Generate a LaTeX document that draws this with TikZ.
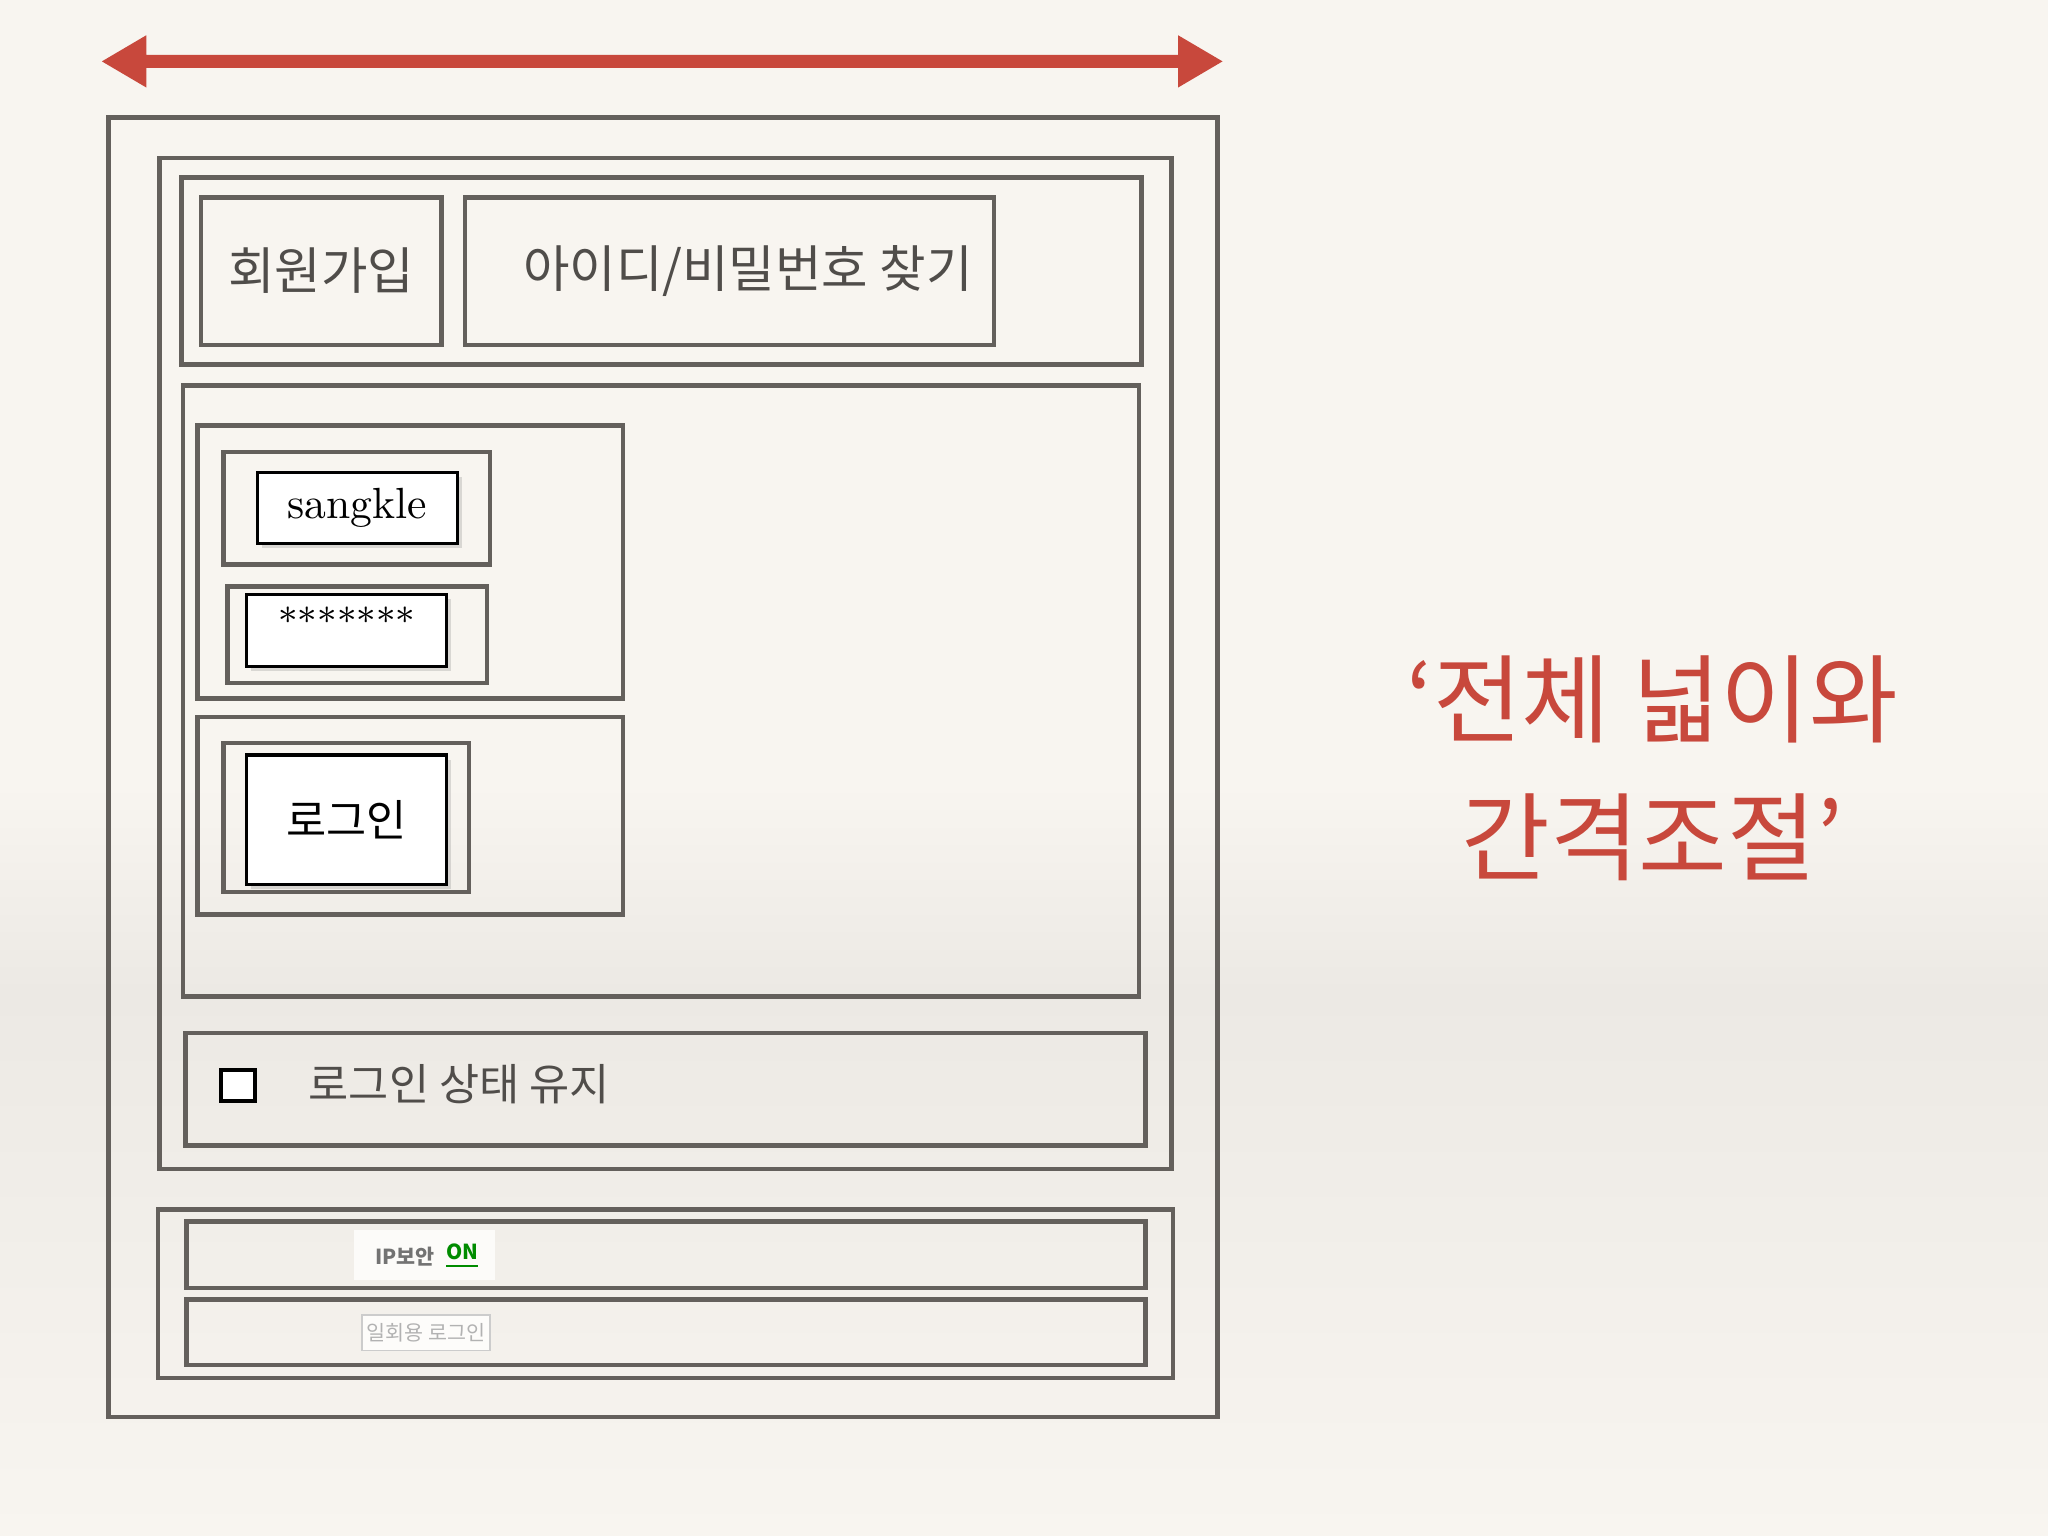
\documentclass[tikz,border=0pt]{standalone}
\usepackage{fontspec}
\usetikzlibrary{shadows}
\newfontfamily\kr{Noto Sans CJK KR}
\definecolor{frame}{RGB}{100,96,92}
\definecolor{redt}{RGB}{200,72,60}
\definecolor{bg}{RGB}{248,245,240}
\definecolor{bgmid}{RGB}{236,233,228}
\begin{document}
\begin{tikzpicture}[x=0.01cm,y=-0.01cm,
  bx/.style={draw=frame,line width=1pt},
  field/.style={draw=black,line width=0.7pt,fill=white,drop shadow={shadow xshift=1pt,shadow yshift=-1pt,opacity=0.25}},
  lbl/.style={font=\kr\fontsize{11}{13}\selectfont,text=frame!80!black}]
\fill[bg] (0,0) rectangle (1568,600);
\shade[top color=bg,bottom color=bgmid] (0,600) rectangle (1568,760);
\shade[top color=bgmid,bottom color=bg] (0,760) rectangle (1568,1176);
\useasboundingbox (0,0) rectangle (1568,1176);
% arrow
\fill[redt] (78,47) -- (112,27) -- (112,42) -- (902,42) -- (902,27) -- (936,47) -- (902,67) -- (902,52) -- (112,52) -- (112,67) -- cycle;
\draw[bx] (83,90) rectangle (932,1085);
\draw[bx] (122,121) rectangle (897,895);
\draw[bx] (139,136) rectangle (874,279);
\draw[bx] (154,151) rectangle (338,264) node[midway,lbl] (join) {회원가입};
\draw[bx] (356,151) rectangle (761,264) node[midway,lbl,xshift=4pt] (find) {아이디/비밀번호 찾기};
\draw[bx] (140,295) rectangle (872,763);
\draw[bx] (151,326) rectangle (477,535);
\draw[bx] (171,346) rectangle (375,432);
\draw[field] (197,362) rectangle (350,416) node[midway,font=\fontsize{9.5}{11}\selectfont] (id) {sangkle};
\draw[bx] (174,449) rectangle (373,523);
\draw[field] (189,455) rectangle (342,510) node[midway,yshift=2pt,font=\fontsize{8}{10}\selectfont] (pw) {*******};
\draw[bx] (151,549) rectangle (477,700);
\draw[bx] (171,569) rectangle (359,683);
\draw[field] (189,578) rectangle (342,677) node[midway,font=\kr\fontsize{9.5}{11}\selectfont] (login) {로그인};
\draw[bx] (142,791) rectangle (877,877);
\draw[line width=0.8pt,draw=black,fill=white] (169,819) rectangle (195,843);
\node[anchor=west,font=\kr\fontsize{9.5}{12}\selectfont,text=frame!80!black] (keep) at (224,830) {로그인 상태 유지};
\draw[bx] (121,926) rectangle (898,1055);
\draw[bx] (143,935) rectangle (877,986);
\draw[bx] (143,995) rectangle (877,1045);
\fill[white!60!bg] (271,942) rectangle (379,980);
\node[font=\kr\bfseries\fontsize{4.5}{6}\selectfont,text=gray!90!black] (ip) at (310,962) {IP보안};
\node[font=\kr\bfseries\fontsize{4.5}{6}\selectfont,text=green!55!black] (on) at (354,962) {\underline{ON}};
\draw[gray!40,fill=white!70!bg] (277,1007) rectangle (375,1034) node[midway,font=\kr\fontsize{4.5}{6}\selectfont,text=gray!60] (otp) {일회용 로그인};
\node[font=\kr\fontsize{21}{30}\selectfont,text=redt,align=center] (title) at (1265,588) {‘전체 넓이와\\간격조절’};
\end{tikzpicture}
\end{document}
